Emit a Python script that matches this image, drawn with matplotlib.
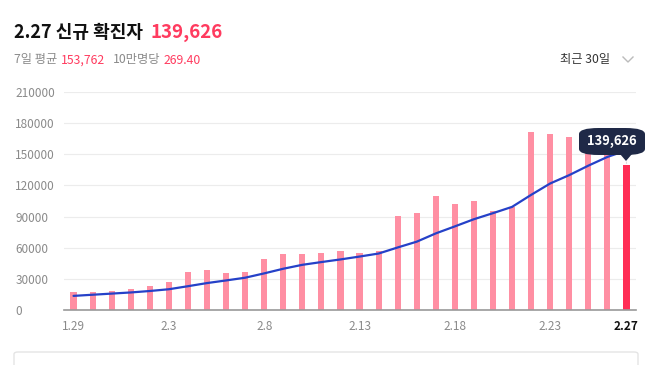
import numpy as np
import matplotlib
matplotlib.use("Agg")
import matplotlib.pyplot as plt
from matplotlib.patches import FancyBboxPatch, Polygon
from matplotlib.lines import Line2D

plt.rcParams['font.family'] = ['Noto Sans CJK KR', 'DejaVu Sans']

# daily new cases, 1.29 ~ 2.27
dates = ["1.29", "1.30", "1.31", "2.1", "2.2", "2.3", "2.4", "2.5", "2.6", "2.7",
         "2.8", "2.9", "2.10", "2.11", "2.12", "2.13", "2.14", "2.15", "2.16", "2.17",
         "2.18", "2.19", "2.20", "2.21", "2.22", "2.23", "2.24", "2.25", "2.26", "2.27"]
cases = [17542, 17529, 18342, 20270, 22907, 27443, 36362, 38691, 35286, 36717,
         49567, 54122, 53926, 54941, 56431, 54619, 57177, 90443, 93135, 109831,
         102211, 104829, 95362, 99573, 171452, 170016, 166209, 165890, 163565, 139626]
# 7-day average line
avg7 = [13600, 14700, 15800, 16900, 18300, 20000, 22914, 25935, 28472, 31097,
        35282, 39741, 43524, 46179, 48713, 51475, 54398, 60237, 65810, 73797,
        80550, 87464, 93284, 99341, 110913, 121896, 129950, 139047, 147438, 153762]
tick_idx = [0, 5, 10, 15, 20, 25, 29]
yticks = [0, 30000, 60000, 90000, 120000, 150000, 180000, 210000]

W, H = 655, 365


def fx(x):
    return x / W


def fy(y):
    return 1 - y / H


fig = plt.figure(figsize=(W / 100, H / 100), dpi=100)
ax = fig.add_axes([fx(64), fy(310), fx(636) - fx(64), fy(92) - fy(310)])

x = np.arange(len(cases))
colors = ["#ff8fa3"] * (len(cases) - 1) + ["#ff2d55"]
ax.bar(x, cases, width=0.32, color=colors, zorder=2)
ax.plot(x, avg7, color="#2541c8", lw=1.6, zorder=3, solid_capstyle="round")

ax.set_xlim(-0.5, len(cases) - 0.5)
ax.set_ylim(0, 210000)
ax.set_yticks(yticks)
ax.set_yticklabels([str(v) for v in yticks])
ax.grid(axis="y", color="#ececec", lw=0.8, zorder=0)
ax.set_axisbelow(True)

for s in ["top", "right", "left"]:
    ax.spines[s].set_visible(False)
ax.spines["bottom"].set_color("#999999")
ax.spines["bottom"].set_linewidth(1.2)
ax.spines["bottom"].set_zorder(4)

ax.tick_params(axis="y", length=0, pad=35, labelsize=8.5, labelcolor="#8a8a8a")
for lab in ax.get_yticklabels():
    lab.set_horizontalalignment("left")

ax.set_xticks(tick_idx)
ax.set_xticklabels([dates[i] for i in tick_idx])
ax.tick_params(axis="x", length=0, pad=7, labelsize=8.5, labelcolor="#8a8a8a")
last = ax.get_xticklabels()[-1]
last.set_color("#111111")
last.set_fontweight("bold")

# crosshair on the last day
ax.axvline(x[-1], ymax=0.72, color="#dddddd", lw=0.8, ls=(0, (2, 2)), zorder=1)

# tooltip
tip = FancyBboxPatch((fx(579), fy(155)), fx(645) - fx(579), fy(128) - fy(155),
                     boxstyle="round,pad=0,rounding_size=0.03",
                     transform=fig.transFigure, facecolor="#1f2947",
                     edgecolor="none", zorder=10, mutation_aspect=H / W)
fig.patches.append(tip)
tri = Polygon([(fx(620), fy(154)), (fx(632), fy(154)), (fx(626), fy(161))],
              closed=True, transform=fig.transFigure, facecolor="#1f2947",
              edgecolor="none", zorder=10)
fig.patches.append(tri)
fig.text(fx(612), fy(141.5), f"{cases[-1]:,}", color="white", fontsize=9.3,
         fontweight="bold", ha="center", va="center", zorder=11)

# header
fig.text(fx(14), fy(32), f"{dates[-1]} 신규 확진자", fontsize=13, fontweight="bold",
         color="#111111", va="center")
fig.text(fx(150), fy(32), f"{cases[-1]:,}", fontsize=13.5, fontweight="bold",
         color="#ff3b5f", va="center")
fig.text(fx(14), fy(60), "7일 평균", fontsize=8.8, color="#8a8a8a", va="center")
fig.text(fx(61), fy(60), f"{avg7[-1]:,}", fontsize=8.8, color="#ff3b5f", va="center")
fig.text(fx(113), fy(60), "10만명당", fontsize=8.8, color="#8a8a8a", va="center")
fig.text(fx(164), fy(60), "269.40", fontsize=8.8, color="#ff3b5f", va="center")
fig.text(fx(560), fy(60), "최근 30일", fontsize=8.8, color="#333333", va="center")
fig.lines.append(Line2D([fx(623), fx(628), fx(633)], [fy(57), fy(62), fy(57)],
                        transform=fig.transFigure, color="#bbbbbb", lw=1.0))

# bottom card edge
card = FancyBboxPatch((fx(14), fy(380)), fx(638) - fx(14), fy(352) - fy(380),
                      boxstyle="round,pad=0,rounding_size=0.006",
                      transform=fig.transFigure, facecolor="white",
                      edgecolor="#e4e4e4", lw=1.0)
fig.patches.append(card)

fig.savefig("out.png", dpi=100)
